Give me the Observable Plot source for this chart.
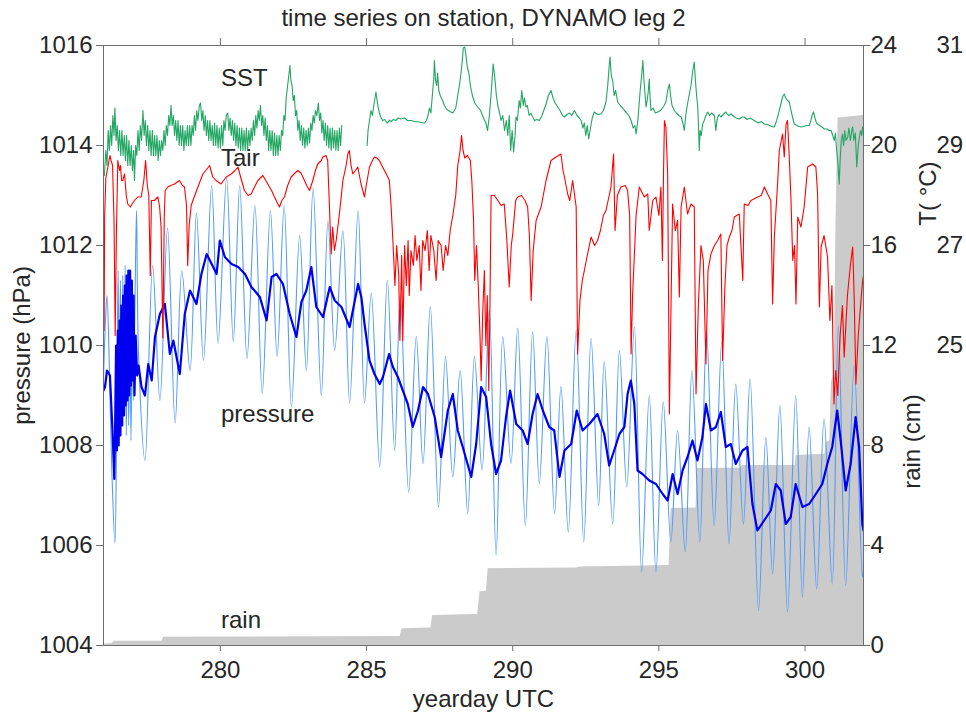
<!DOCTYPE html>
<html><head><meta charset="utf-8">
<script src="https://cdn.jsdelivr.net/npm/d3@7"></script>
<script src="https://cdn.jsdelivr.net/npm/@observablehq/plot@0.6"></script>
<style>
html,body{margin:0;padding:0;background:#fff;}
#chart{width:966px;height:713px;overflow:hidden;position:relative;}
</style></head><body><div id="chart"></div>
<script>
// ---- tick labels / categories ----
const xTicks = [280, 285, 290, 295, 300];
const pressureTicks = [1004, 1006, 1008, 1010, 1012, 1014, 1016];
const rainTicks = [0, 4, 8, 12, 16, 20, 24];
const tempTicks = [25, 27, 29, 31];
const seriesNames = ["SST", "Tair", "pressure", "rain"];
const subtitle = "time series on station, DYNAMO leg 2";

// ---- cumulative rain [yearday, cm] ----
const rainCum = [[276.0,0.05],[276.3,0.08],[276.36,0.17],[278.0,0.17],[278.06,0.33],[286.15,0.36],[286.22,0.67],[287.2,0.70],[287.26,1.2],[288.8,1.24],[288.88,2.14],[289.1,2.18],[289.16,3.07],[292.2,3.1],[292.3,3.14],[295.35,3.2],[295.42,5.48],[296.27,5.5],[296.32,7.08],[297.8,7.1],[297.85,7.2],[299.66,7.2],[299.7,7.6],[300.68,7.65],[300.72,8.1],[300.85,8.2],[300.9,10.5],[301.0,11],[301.06,17],[301.13,21.1],[302.0,21.2]];

// ---- raw pressure [yearday, hPa] ----
const pressureRaw = [[276.0,1009.3],[276.06,1010.4],[276.12,1011.0],[276.2,1009.6],[276.28,1007.6],[276.39,1006.05],[276.45,1008.4],[276.5,1011.5],[276.54,1008.6],[276.58,1011.3],[276.62,1008.4],[276.66,1011.4],[276.7,1008.7],[276.74,1011.6],[276.78,1008.2],[276.82,1011.1],[276.86,1008.4],[276.9,1010.6],[276.94,1008.1],[276.98,1010.3],[277.02,1008.9],[277.08,1011.0],[277.13,1012.7],[277.2,1009.8],[277.42,1007.7],[277.68,1011.6],[277.93,1008.9],[278.19,1012.35],[278.45,1008.45],[278.68,1011.5],[278.96,1009.5],[279.18,1012.65],[279.42,1009.7],[279.7,1013.2],[279.92,1010.04],[280.21,1013.35],[280.44,1010.08],[280.66,1013.2],[280.91,1009.74],[281.18,1012.8],[281.43,1009.04],[281.71,1012.7],[281.94,1009.78],[282.18,1012.8],[282.43,1008.77],[282.71,1012.2],[282.94,1009.5],[283.17,1013.15],[283.45,1009.0],[283.68,1012.5],[283.91,1009.9],[284.19,1012.3],[284.42,1008.85],[284.71,1012.7],[284.93,1008.85],[285.16,1011.05],[285.45,1007.57],[285.71,1011.3],[285.96,1007.9],[286.15,1011.0],[286.44,1007.07],[286.7,1010.18],[286.93,1007.64],[287.18,1010.78],[287.46,1006.77],[287.7,1009.78],[287.95,1007.37],[288.2,1009.5],[288.46,1006.64],[288.69,1009.78],[288.95,1007.51],[289.2,1010.7],[289.43,1005.8],[289.66,1010.18],[289.94,1007.64],[290.17,1010.35],[290.43,1006.4],[290.68,1010.28],[290.91,1007.24],[291.17,1010.18],[291.43,1006.64],[291.65,1009.18],[291.9,1006.27],[292.17,1010.31],[292.43,1006.07],[292.68,1010.14],[292.94,1006.8],[293.13,1009.68],[293.42,1006.43],[293.65,1009.9],[293.9,1007.17],[294.16,1010.37],[294.41,1005.47],[294.67,1009.0],[294.9,1005.47],[295.15,1008.87],[295.41,1006.07],[295.64,1008.3],[295.9,1005.87],[296.13,1009.5],[296.4,1006.07],[296.63,1010.3],[296.89,1006.4],[297.15,1010.07],[297.4,1006.03],[297.63,1009.23],[297.89,1006.43],[298.12,1009.33],[298.41,1004.7],[298.66,1008.17],[298.89,1005.43],[299.14,1008.8],[299.4,1004.67],[299.68,1009.0],[299.91,1004.97],[300.14,1008.37],[300.4,1005.13],[300.65,1008.53],[300.93,1005.23],[301.14,1010.4],[301.39,1005.2],[301.68,1009.6],[301.96,1005.37],[302.0,1005.6]];

// ---- pressure without the tide [yearday, hPa] ----
const pressureSmooth = [[276.0,1009.1],[276.05,1009.17],[276.12,1009.5],[276.22,1009.4],[276.3,1008.4],[276.37,1007.33],[276.4,1008.5],[276.43,1010.0],[276.46,1007.9],[276.49,1010.3],[276.52,1008.0],[276.55,1010.5],[276.58,1008.2],[276.61,1010.8],[276.64,1008.4],[276.67,1011.0],[276.7,1008.6],[276.73,1011.2],[276.76,1008.8],[276.79,1011.4],[276.82,1008.9],[276.85,1011.5],[276.88,1009.0],[276.91,1011.5],[276.94,1009.2],[276.97,1011.3],[277.0,1009.3],[277.03,1011.0],[277.06,1009.0],[277.1,1010.2],[277.15,1009.4],[277.2,1009.6],[277.3,1009.17],[277.42,1009.0],[277.53,1009.63],[277.65,1009.3],[277.76,1010.17],[277.93,1010.63],[278.1,1010.83],[278.27,1009.83],[278.39,1010.1],[278.61,1009.43],[278.78,1010.63],[278.96,1011.1],[279.18,1010.83],[279.35,1011.43],[279.53,1011.83],[279.7,1011.63],[279.87,1011.43],[279.98,1012.1],[280.15,1011.77],[280.38,1011.63],[280.61,1011.57],[280.84,1011.43],[281.06,1011.17],[281.35,1010.97],[281.58,1010.5],[281.75,1011.37],[281.92,1011.43],[282.14,1011.23],[282.37,1010.63],[282.6,1010.17],[282.77,1010.87],[282.94,1011.1],[283.11,1011.57],[283.28,1010.77],[283.51,1010.57],[283.74,1011.17],[283.91,1010.9],[284.14,1010.77],[284.42,1010.37],[284.71,1011.23],[284.82,1010.97],[284.93,1010.43],[285.1,1009.7],[285.27,1009.43],[285.45,1009.23],[285.56,1009.37],[285.77,1009.83],[285.9,1009.57],[286.07,1009.37],[286.24,1009.1],[286.41,1008.83],[286.58,1008.37],[286.76,1008.7],[286.93,1009.17],[287.1,1009.03],[287.33,1008.57],[287.55,1007.77],[287.78,1008.7],[287.95,1009.03],[288.12,1008.3],[288.29,1007.97],[288.58,1007.37],[288.75,1008.03],[288.92,1009.17],[289.09,1008.97],[289.26,1008.03],[289.43,1007.43],[289.6,1007.7],[289.77,1008.57],[289.91,1009.1],[290.12,1008.43],[290.34,1008.3],[290.51,1008.03],[290.68,1008.63],[290.85,1009.03],[291.03,1008.7],[291.25,1008.37],[291.42,1008.3],[291.6,1007.37],[291.77,1007.9],[292.0,1008.03],[292.19,1008.7],[292.39,1008.3],[292.62,1008.43],[292.9,1008.63],[293.13,1008.23],[293.3,1007.6],[293.47,1007.9],[293.65,1008.23],[293.82,1008.37],[293.93,1009.03],[294.04,1009.3],[294.16,1008.83],[294.27,1007.5],[294.44,1007.43],[294.67,1007.3],[294.9,1007.23],[295.13,1007.03],[295.3,1006.9],[295.47,1007.43],[295.64,1007.03],[295.81,1007.5],[295.98,1007.77],[296.15,1008.1],[296.32,1007.7],[296.49,1008.17],[296.61,1008.83],[296.78,1008.3],[296.95,1008.37],[297.12,1008.67],[297.29,1007.97],[297.46,1008.03],[297.63,1007.63],[297.86,1007.9],[298.03,1007.97],[298.2,1006.83],[298.37,1006.3],[298.6,1006.5],[298.83,1006.7],[299.0,1007.23],[299.17,1007.1],[299.34,1006.43],[299.51,1006.57],[299.68,1007.23],[299.91,1006.77],[300.14,1006.83],[300.37,1007.03],[300.59,1007.23],[300.76,1007.63],[300.93,1007.97],[301.1,1008.7],[301.22,1008.1],[301.39,1007.1],[301.56,1007.63],[301.73,1008.57],[301.85,1007.97],[301.96,1006.43],[302.0,1006.3]];

// ---- air temperature [yearday, °C] ----
const tair = [[276.0,26.8],[276.02,25.3],[276.04,27.6],[276.08,28.35],[276.15,28.57],[276.22,28.8],[276.26,28.7],[276.31,28.6],[276.36,27.5],[276.4,25.2],[276.44,27.2],[276.49,28.7],[276.55,28.5],[276.58,28.6],[276.62,28.3],[276.66,28.3],[276.72,28.43],[276.78,28.0],[276.83,27.83],[276.92,27.77],[277.0,27.85],[277.06,27.9],[277.17,27.97],[277.29,27.97],[277.38,28.3],[277.44,28.7],[277.5,28.2],[277.55,28.0],[277.6,26.4],[277.64,27.9],[277.74,27.9],[277.86,27.97],[277.92,27.77],[277.97,27.37],[278.03,25.15],[278.08,27.6],[278.11,28.1],[278.2,28.17],[278.3,28.2],[278.43,28.23],[278.6,28.3],[278.7,28.2],[278.77,28.17],[278.84,27.8],[278.88,26.6],[278.93,27.4],[279.0,27.8],[279.06,27.9],[279.23,28.17],[279.4,28.43],[279.5,28.5],[279.63,28.6],[279.74,28.37],[279.85,28.3],[280.02,28.23],[280.2,28.37],[280.37,28.43],[280.5,28.5],[280.6,28.57],[280.7,28.35],[280.82,28.1],[280.95,28.0],[281.05,28.03],[281.15,28.15],[281.28,28.3],[281.45,28.4],[281.62,28.23],[281.75,28.1],[281.85,27.97],[281.95,27.85],[282.02,27.77],[282.1,27.9],[282.19,27.97],[282.3,28.2],[282.42,28.37],[282.55,28.45],[282.65,28.5],[282.75,28.45],[282.82,28.37],[282.95,28.2],[283.05,28.1],[283.16,28.3],[283.25,28.5],[283.33,28.63],[283.45,28.7],[283.5,28.77],[283.61,28.8],[283.67,28.7],[283.73,27.77],[283.79,26.83],[283.84,27.37],[283.9,26.9],[283.96,27.1],[284.07,27.63],[284.19,28.3],[284.3,28.6],[284.36,28.83],[284.41,28.9],[284.47,28.6],[284.53,28.43],[284.62,28.5],[284.7,28.57],[284.81,28.23],[284.93,27.97],[284.98,28.17],[285.1,28.57],[285.2,28.7],[285.27,28.77],[285.35,28.75],[285.44,28.7],[285.52,28.6],[285.61,28.5],[285.7,28.4],[285.78,28.3],[285.84,27.77],[285.9,27.1],[285.97,26.2],[286.03,27.0],[286.1,26.4],[286.14,25.1],[286.2,26.8],[286.24,25.1],[286.3,27.0],[286.36,26.2],[286.42,27.1],[286.46,26.0],[286.52,26.9],[286.6,26.6],[286.66,27.2],[286.72,26.7],[286.8,27.0],[286.86,26.1],[286.92,27.1],[287.0,26.9],[287.08,27.3],[287.14,26.5],[287.2,27.2],[287.3,26.9],[287.38,26.3],[287.45,27.1],[287.55,27.0],[287.62,26.5],[287.7,27.0],[287.78,26.8],[287.86,27.3],[287.95,27.6],[288.05,28.0],[288.12,28.6],[288.2,28.9],[288.25,29.2],[288.3,28.9],[288.36,28.75],[288.45,28.8],[288.55,28.7],[288.6,28.3],[288.66,27.5],[288.7,26.3],[288.76,27.0],[288.82,26.2],[288.88,25.2],[288.92,24.3],[288.97,25.6],[289.03,26.5],[289.08,25.0],[289.13,26.0],[289.18,24.1],[289.22,25.8],[289.26,28.0],[289.37,28.0],[289.49,27.9],[289.6,27.8],[289.71,27.83],[289.8,27.1],[289.88,26.17],[289.95,27.0],[290.0,27.23],[290.1,27.9],[290.17,27.97],[290.3,28.0],[290.42,27.9],[290.51,27.77],[290.57,27.2],[290.63,25.9],[290.7,26.9],[290.8,27.5],[290.97,27.77],[291.14,28.3],[291.31,28.7],[291.48,28.77],[291.65,28.83],[291.72,28.5],[291.77,28.37],[291.88,28.03],[291.95,27.9],[292.05,28.3],[292.17,27.77],[292.22,24.83],[292.3,25.9],[292.38,26.3],[292.45,26.5],[292.55,26.8],[292.68,27.17],[292.8,27.0],[292.9,27.1],[293.0,27.3],[293.1,27.6],[293.19,27.7],[293.3,28.0],[293.36,28.17],[293.45,28.83],[293.5,27.3],[293.58,28.0],[293.7,28.17],[293.85,28.2],[293.93,28.1],[294.0,27.6],[294.05,24.83],[294.1,26.0],[294.16,26.8],[294.22,27.6],[294.33,28.17],[294.5,27.97],[294.62,28.03],[294.67,27.3],[294.79,27.9],[294.9,27.97],[295.0,27.6],[295.07,28.17],[295.12,26.7],[295.16,28.5],[295.19,29.5],[295.24,29.37],[295.3,28.43],[295.36,23.63],[295.42,26.0],[295.47,27.83],[295.56,27.3],[295.64,27.5],[295.7,25.97],[295.76,27.77],[295.87,28.17],[295.98,27.63],[296.1,27.83],[296.21,27.77],[296.27,24.03],[296.35,25.8],[296.44,27.0],[296.52,26.7],[296.61,24.63],[296.68,26.5],[296.78,26.83],[296.9,27.0],[297.01,27.1],[297.12,27.23],[297.18,24.7],[297.26,26.2],[297.33,27.0],[297.41,27.17],[297.5,27.3],[297.58,27.57],[297.75,27.63],[297.87,26.3],[297.92,27.83],[298.05,27.8],[298.15,27.9],[298.38,27.97],[298.5,28.0],[298.61,28.17],[298.72,28.03],[298.83,27.9],[298.89,25.83],[298.95,27.17],[299.06,28.23],[299.12,28.9],[299.23,29.23],[299.29,28.77],[299.35,29.43],[299.4,29.5],[299.46,28.77],[299.52,27.9],[299.58,26.7],[299.64,27.0],[299.69,25.83],[299.75,27.57],[299.86,27.37],[299.97,27.77],[300.09,28.57],[300.26,28.63],[300.37,28.57],[300.43,28.03],[300.49,25.77],[300.55,26.97],[300.65,27.2],[300.77,26.77],[300.85,25.5],[300.92,26.2],[300.99,23.83],[301.05,24.5],[301.12,24.0],[301.2,25.2],[301.28,25.8],[301.34,24.77],[301.45,26.0],[301.55,26.6],[301.63,26.97],[301.68,26.0],[301.74,24.23],[301.82,25.2],[301.9,25.8],[301.97,26.3],[302.0,26.4]];

// ---- sea surface temperature [yearday, °C], before and after the data gap ----
const sstBeforeGap = [[276.03,28.4],[276.08,28.9],[276.12,28.6],[276.16,29.3],[276.2,28.9],[276.24,29.4],[276.28,29.0],[276.32,29.6],[276.36,29.2],[276.39,29.75],[276.43,29.1],[276.47,29.4],[276.51,28.9],[276.55,29.3],[276.59,28.8],[276.63,29.3],[276.67,28.8],[276.71,29.2],[276.75,28.7],[276.79,29.2],[276.83,28.6],[276.87,29.1],[276.91,28.6],[276.95,29.0],[276.99,28.5],[277.03,28.9],[277.06,28.3],[277.1,29.0],[277.14,28.8],[277.18,29.3],[277.22,28.9],[277.26,29.4],[277.3,29.1],[277.35,29.7],[277.39,29.2],[277.43,29.5],[277.47,29.0],[277.51,29.4],[277.55,28.9],[277.59,29.3],[277.63,28.8],[277.67,29.3],[277.71,28.8],[277.75,29.2],[277.79,28.8],[277.83,29.2],[277.87,28.7],[277.91,29.1],[277.95,28.8],[277.99,29.1],[278.03,28.9],[278.07,29.3],[278.11,29.0],[278.15,29.4],[278.19,29.2],[278.23,29.6],[278.27,29.4],[278.31,29.8],[278.35,29.4],[278.39,29.6],[278.43,29.2],[278.47,29.5],[278.51,29.1],[278.55,29.5],[278.59,29.0],[278.63,29.4],[278.67,29.0],[278.71,29.4],[278.75,28.9],[278.79,29.3],[278.83,29.0],[278.87,29.4],[278.91,29.0],[278.95,29.4],[278.99,29.0],[279.03,29.4],[279.07,29.2],[279.11,29.6],[279.15,29.3],[279.19,29.7],[279.23,29.5],[279.28,29.8],[279.32,29.85],[279.36,29.5],[279.4,29.7],[279.44,29.3],[279.48,29.6],[279.52,29.2],[279.56,29.5],[279.6,29.1],[279.64,29.5],[279.68,29.1],[279.72,29.4],[279.76,29.0],[279.8,29.45],[279.84,29.0],[279.88,29.4],[279.92,28.95],[279.96,29.35],[280.0,28.95],[280.04,29.4],[280.08,29.0],[280.12,29.5],[280.16,29.3],[280.2,29.6],[280.25,29.65],[280.29,29.3],[280.33,29.55],[280.37,29.2],[280.41,29.5],[280.45,29.1],[280.49,29.45],[280.53,29.0],[280.57,29.4],[280.61,28.95],[280.65,29.35],[280.69,28.9],[280.73,29.35],[280.77,28.9],[280.81,29.3],[280.85,28.9],[280.89,29.35],[280.93,28.9],[280.97,29.3],[281.01,29.0],[281.05,29.35],[281.09,29.1],[281.13,29.5],[281.17,29.2],[281.21,29.6],[281.25,29.35],[281.29,29.7],[281.33,29.5],[281.37,29.8],[281.41,29.4],[281.45,29.6],[281.49,29.2],[281.53,29.55],[281.57,29.1],[281.61,29.4],[281.65,28.9],[281.69,29.3],[281.73,28.9],[281.77,29.3],[281.81,28.8],[281.85,29.25],[281.89,28.8],[281.93,29.2],[281.97,28.8],[282.01,29.2],[282.05,28.9],[282.09,29.3],[282.13,29.2],[282.17,29.6],[282.21,29.5],[282.25,29.95],[282.3,30.2],[282.34,30.4],[282.38,30.6],[282.41,30.3],[282.45,30.2],[282.49,29.9],[282.53,30.0],[282.57,29.6],[282.61,29.7],[282.65,29.3],[282.69,29.5],[282.73,29.1],[282.77,29.4],[282.81,29.0],[282.85,29.35],[282.89,28.95],[282.93,29.3],[282.97,29.0],[283.01,29.35],[283.05,29.05],[283.09,29.45],[283.13,29.3],[283.17,29.6],[283.21,29.45],[283.25,29.7],[283.3,29.6],[283.35,29.85],[283.39,29.5],[283.43,29.65],[283.47,29.25],[283.51,29.5],[283.55,29.1],[283.59,29.45],[283.63,29.0],[283.67,29.4],[283.71,28.95],[283.75,29.35],[283.79,28.9],[283.83,29.35],[283.87,28.95],[283.91,29.3],[283.95,28.9],[283.99,29.3],[284.03,28.9],[284.07,29.35],[284.11,29.0],[284.15,29.4]];
const sstAfterGap = [[285.02,29.0],[285.05,29.3],[285.1,29.5],[285.15,29.7],[285.2,29.6],[285.26,29.85],[285.32,30.07],[285.36,29.9],[285.4,29.75],[285.44,29.65],[285.5,29.55],[285.55,29.5],[285.62,29.52],[285.7,29.45],[285.78,29.5],[285.84,29.48],[285.92,29.52],[286.0,29.5],[286.08,29.55],[286.18,29.53],[286.3,29.55],[286.4,29.5],[286.52,29.5],[286.65,29.48],[286.8,29.47],[286.98,29.45],[287.05,29.5],[287.1,29.6],[287.15,29.75],[287.2,29.65],[287.25,30.0],[287.3,30.35],[287.32,30.7],[287.36,30.3],[287.4,30.2],[287.43,30.45],[287.47,30.1],[287.52,30.0],[287.6,29.9],[287.66,29.8],[287.75,29.72],[287.85,29.68],[287.95,29.65],[288.05,29.75],[288.12,30.0],[288.2,30.3],[288.26,30.6],[288.31,30.95],[288.36,30.97],[288.4,30.8],[288.45,30.55],[288.5,30.45],[288.55,30.2],[288.62,30.0],[288.7,29.85],[288.8,29.77],[288.9,29.7],[289.0,29.55],[289.08,29.45],[289.14,29.3],[289.2,29.6],[289.27,30.1],[289.33,30.63],[289.38,30.4],[289.44,30.0],[289.49,29.8],[289.55,29.65],[289.6,29.5],[289.66,29.6],[289.72,29.3],[289.78,29.5],[289.83,29.2],[289.88,29.6],[289.93,28.9],[289.98,29.3],[290.03,28.87],[290.08,29.2],[290.11,29.57],[290.16,29.5],[290.22,29.9],[290.26,29.75],[290.31,30.1],[290.36,29.8],[290.4,29.95],[290.45,29.77],[290.5,29.8],[290.56,29.6],[290.62,29.65],[290.68,29.57],[290.75,29.5],[290.82,29.52],[290.91,29.5],[291.0,29.6],[291.06,29.7],[291.14,29.83],[291.22,30.0],[291.31,30.1],[291.38,29.95],[291.45,29.85],[291.54,29.77],[291.62,29.7],[291.7,29.6],[291.77,29.57],[291.85,29.62],[291.95,29.65],[292.02,29.6],[292.11,29.7],[292.2,29.6],[292.28,29.55],[292.34,29.5],[292.4,29.35],[292.45,29.45],[292.5,29.2],[292.55,29.4],[292.6,29.13],[292.66,29.35],[292.72,29.55],[292.79,29.67],[292.9,29.62],[293.02,29.63],[293.1,29.7],[293.19,29.87],[293.25,30.2],[293.3,30.6],[293.33,30.77],[293.37,30.4],[293.42,30.3],[293.47,30.0],[293.52,30.1],[293.59,29.87],[293.68,29.8],[293.76,29.75],[293.82,29.7],[293.9,29.65],[293.97,29.6],[294.05,29.5],[294.12,29.35],[294.18,29.4],[294.22,29.23],[294.28,29.5],[294.32,29.8],[294.36,30.1],[294.41,30.4],[294.45,30.7],[294.49,30.3],[294.53,30.0],[294.56,29.77],[294.6,29.9],[294.64,30.1],[294.67,30.33],[294.7,29.95],[294.73,29.7],[294.8,29.75],[294.88,29.65],[294.96,29.67],[295.05,29.7],[295.12,29.75],[295.18,29.8],[295.24,29.87],[295.3,30.1],[295.36,30.23],[295.4,30.0],[295.45,29.8],[295.53,29.7],[295.6,29.65],[295.68,29.6],[295.76,29.57],[295.82,29.45],[295.87,29.3],[295.92,29.6],[295.97,29.8],[296.04,30.03],[296.1,30.2],[296.16,30.5],[296.21,30.67],[296.25,30.3],[296.29,30.0],[296.33,29.77],[296.36,29.3],[296.38,28.9],[296.41,29.3],[296.45,29.2],[296.5,29.43],[296.55,29.5],[296.61,29.6],[296.67,29.67],[296.73,29.6],[296.8,29.65],[296.9,29.6],[296.95,29.3],[297.0,29.55],[297.06,29.62],[297.12,29.57],[297.2,29.62],[297.29,29.67],[297.38,29.6],[297.47,29.63],[297.56,29.58],[297.65,29.55],[297.75,29.53],[297.85,29.57],[297.92,29.57],[298.02,29.52],[298.12,29.55],[298.26,29.5],[298.4,29.45],[298.5,29.48],[298.61,29.43],[298.72,29.42],[298.85,29.38],[298.95,29.37],[299.03,29.5],[299.12,29.7],[299.2,29.9],[299.25,30.0],[299.29,30.03],[299.34,29.95],[299.4,29.9],[299.46,29.87],[299.52,29.7],[299.58,29.55],[299.63,29.43],[299.72,29.4],[299.8,29.38],[299.86,29.37],[299.95,29.38],[300.05,29.4],[300.14,29.4],[300.2,29.5],[300.25,29.62],[300.29,29.67],[300.34,29.55],[300.39,29.45],[300.43,29.43],[300.5,29.4],[300.58,29.37],[300.66,29.33],[300.75,29.33],[300.82,29.3],[300.89,29.3],[300.95,29.2],[301.0,29.1],[301.04,29.25],[301.08,28.9],[301.13,28.6],[301.17,28.23],[301.2,28.7],[301.24,29.1],[301.28,29.23],[301.32,29.0],[301.36,29.3],[301.4,29.1],[301.46,29.17],[301.5,29.35],[301.55,29.1],[301.6,29.3],[301.63,29.37],[301.67,29.1],[301.72,29.25],[301.77,28.57],[301.82,29.0],[301.86,29.17],[301.9,29.3],[301.94,29.2],[301.97,29.37],[302.0,29.3]];

// ---- mapping of the right-hand axes onto the pressure axis (as in the reference) ----
const T_OFFSET = 985;       // T (°C) + 985 -> hPa position (31 °C at 1016 hPa)
const RAIN_BASE = 1004;     // 0 cm at 1004 hPa
const RAIN_PER_HPA = 2;     // 24 cm at 1016 hPa

const FONT = "'Liberation Sans', Arial, Helvetica, sans-serif";
const INK = "#262626";
const AXIS = "#6e6e6e";
const fs = 24;
const day = d => d[0];
const val = d => d[1];

const chart = Plot.plot({
  width: 966,
  height: 713,
  marginLeft: 103,
  marginRight: 103,
  marginTop: 45,
  marginBottom: 68,
  style: {fontFamily: FONT, fontSize: "24px", color: INK, background: "#fff", overflow: "visible"},
  x: {domain: [276, 302]},
  y: {domain: [1004, 1016]},
  marks: [
    Plot.areaY(rainCum, {x: day, y1: RAIN_BASE, y2: d => RAIN_BASE + d[1] / RAIN_PER_HPA, fill: "#cbcbcb", clip: true}),
    Plot.line(pressureRaw, {x: day, y: val, stroke: "#4f9bff", strokeWidth: 1.1, curve: "catmull-rom", clip: true}),
    Plot.line(pressureSmooth, {x: day, y: val, stroke: "#0000f0", strokeWidth: 2.2, strokeLinejoin: "round", clip: true}),
    Plot.line(tair, {x: day, y: d => d[1] + T_OFFSET, stroke: "#ff0000", strokeWidth: 1.1, clip: true}),
    Plot.line(sstBeforeGap, {x: day, y: d => d[1] + T_OFFSET, stroke: "#22a663", strokeWidth: 1.1, clip: true}),
    Plot.line(sstAfterGap, {x: day, y: d => d[1] + T_OFFSET, stroke: "#22a663", strokeWidth: 1.1, clip: true}),
    Plot.frame({stroke: AXIS, strokeWidth: 1}),
    // left pressure axis
    Plot.axisY({anchor: "left", ticks: pressureTicks, tickFormat: d => String(d), tickSize: 7, tickPadding: 4,
      stroke: AXIS, fill: INK, fontSize: fs, label: null}),
    // right rain axis
    Plot.axisY({anchor: "right", ticks: rainTicks.map(r => RAIN_BASE + r / RAIN_PER_HPA),
      tickFormat: p => String(Math.round((p - RAIN_BASE) * RAIN_PER_HPA)), tickSize: 6, tickPadding: 1,
      stroke: AXIS, fill: INK, fontSize: fs, label: null}),
    // outer temperature labels
    Plot.axisY({anchor: "right", ticks: tempTicks.map(t => t + T_OFFSET),
      tickFormat: p => String(Math.round(p - T_OFFSET)), tickSize: 0, tickPadding: 73,
      fill: INK, fontSize: fs, label: null}),
    // x axes
    Plot.axisX({anchor: "bottom", ticks: xTicks, tickFormat: d => String(d), tickSize: 6, tickPadding: 9,
      stroke: AXIS, fill: INK, fontSize: fs, label: null}),
    Plot.axisX({anchor: "top", ticks: xTicks, tickFormat: () => "", tickSize: 8,
      stroke: AXIS, fill: INK, fontSize: fs, label: null}),
    // axis titles
    Plot.text(["pressure (hPa)"], {frameAnchor: "left", dx: -81, rotate: -90, text: d => d,
      textAnchor: "middle", lineAnchor: "middle", fontSize: fs, fill: INK}),
    Plot.text(["rain (cm)"], {frameAnchor: "right", dx: 49, dy: 96, rotate: -90, text: d => d,
      textAnchor: "middle", lineAnchor: "middle", fontSize: fs, fill: INK}),
    Plot.text(["T( °C)"], {frameAnchor: "right", dx: 65, dy: -152, rotate: -90, text: d => d,
      textAnchor: "middle", lineAnchor: "middle", fontSize: fs, fill: INK}),
    Plot.text(["yearday UTC"], {frameAnchor: "bottom", dy: 54, text: d => d,
      textAnchor: "middle", lineAnchor: "middle", fontSize: fs, fill: INK}),
    Plot.text([subtitle], {frameAnchor: "top", dy: -27, text: d => d,
      textAnchor: "middle", lineAnchor: "middle", fontSize: fs, fill: INK}),
    // series labels inside the plot
    Plot.text(seriesNames, {
      x: () => 280.02,
      y: d => ({SST: 1015.35, Tair: 1013.75, pressure: 1008.63, rain: 1004.51})[d],
      text: d => d, textAnchor: "start", lineAnchor: "middle", fontSize: fs, fill: INK})
  ]
});
document.getElementById("chart").appendChild(chart);
</script>
</body></html>
